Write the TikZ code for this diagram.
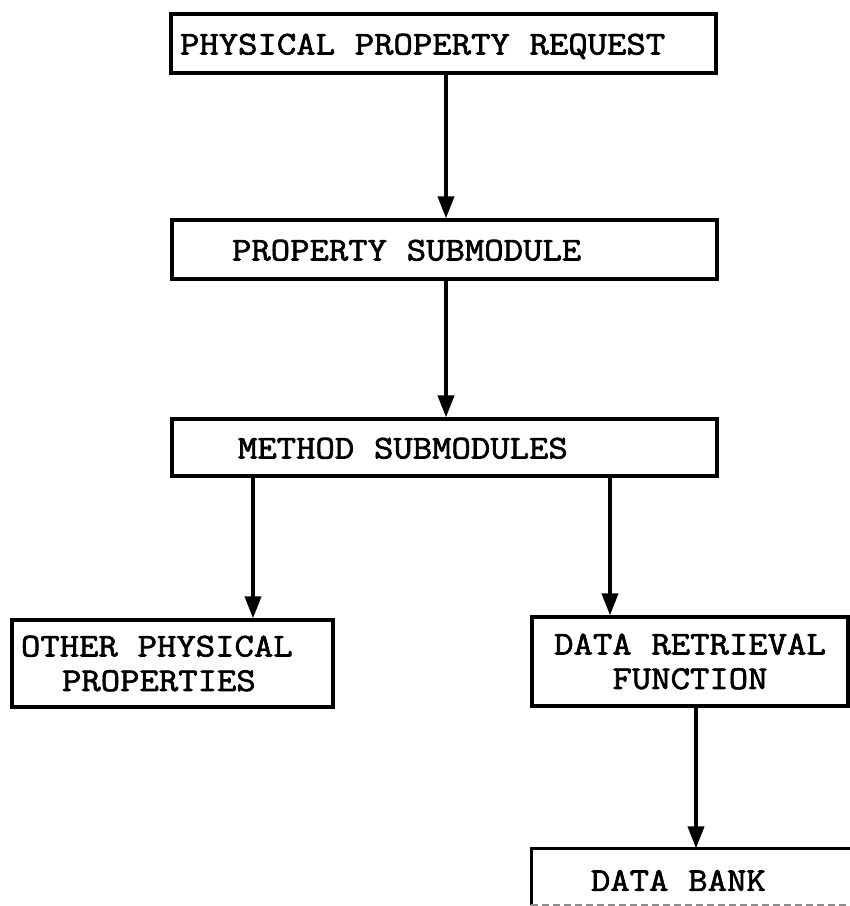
\documentclass[tikz,border=0pt]{standalone}
\usepackage{fontspec}
\setmonofont{Latin Modern Mono}[FakeStretch=1.13, FakeBold=2]
\usetikzlibrary{arrows.meta}
% typewriter face used in every box
\newcommand{\boxfont}{\ttfamily\fontsize{33.3pt}{34.5pt}\selectfont}

\begin{document}
\begin{tikzpicture}[x=1pt, y=-1pt,
  box/.style={draw, line width=3.2pt, inner sep=0pt, font=\boxfont,
    % one full typewriter cell between words
    execute at begin node={\spaceskip=19.76pt\relax\xspaceskip=19.76pt\relax}},
  oneline/.style={box, align=left, text height=22pt, text depth=0pt},
  twoline/.style={box, align=center},
  arr/.style={line width=3.8pt, -{Triangle[length=22pt, width=16pt]}},
]
  % page
  \fill[white] (0,0) rectangle (850,906);
  \useasboundingbox (0,0) rectangle (850,906);

  % main chain
  \node[oneline, text width=545pt, minimum height=59pt] (req) at (443.5,43.5)
    {\hspace*{9pt}PHYSICAL PROPERTY REQUEST};
  \node[oneline, text width=545pt, minimum height=59pt] (prop) at (444.5,249.5)
    {\hspace*{60pt}PROPERTY SUBMODULE};
  \node[oneline, text width=545pt, minimum height=57pt] (meth) at (444.5,447.5)
    {\hspace*{66pt}METHOD SUBMODULES};

  % branches
  \node[box, align=left, text width=321pt, minimum height=87pt] (other) at (172.5,663.5)
    {\hspace*{9pt}OTHER PHYSICAL\\\hspace*{50pt}PROPERTIES};
  \node[twoline, text width=316pt, minimum height=89pt] (retr) at (690,661.5)
    {DATA RETRIEVAL\\FUNCTION};

  % data bank: runs off the right edge, faint lower rule
  \node[oneline, draw=none, text width=347pt, minimum height=53pt, text height=28.7pt]
    (bank) at (706.5,876.5) {\hspace*{58pt}DATA BANK};
  \draw[line width=3.2pt] (bank.south west) |- (bank.north east) -- (bank.south east);
  \draw[line width=2pt, black!45, dash pattern=on 7pt off 4pt] (bank.south west) -- (bank.south east);

  % connectors
  \coordinate (xa) at (446,0);
  \coordinate (xl) at (253,0);
  \coordinate (xr) at (610,0);
  \coordinate (xb) at (696,0);
  \draw[arr] (req.south -| xa) -- (prop.north -| xa);
  \draw[arr] (prop.south -| xa) -- (meth.north -| xa);
  \draw[arr] (meth.south -| xl) -- (other.north -| xl);
  \draw[arr] (meth.south -| xr) -- (retr.north -| xr);
  \draw[arr] (retr.south -| xb) -- (bank.north -| xb);
\end{tikzpicture}
\end{document}
